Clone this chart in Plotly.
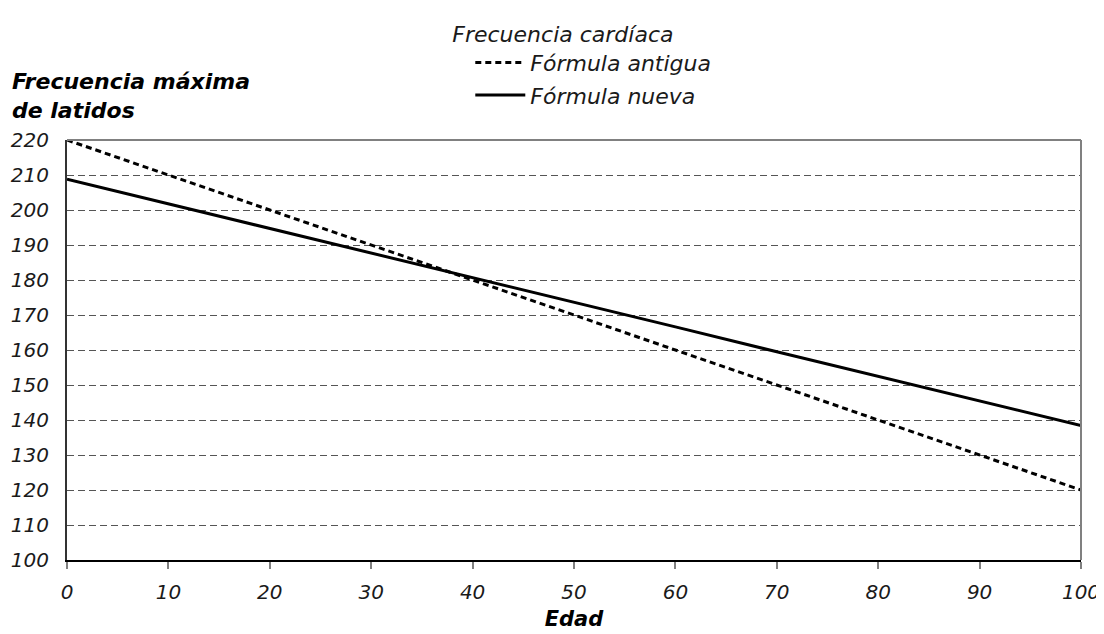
import plotly.graph_objects as go

edad = [0, 10, 20, 30, 40, 50, 60, 70, 80, 90, 100]
formula_antigua = [220, 210, 200, 190, 180, 170, 160, 150, 140, 130, 120]
formula_nueva = [208.8, 201.8, 194.7, 187.7, 180.6, 173.6, 166.6, 159.5, 152.5, 145.4, 138.4]
y_ticks = list(range(100, 221, 10))
x_ticks = list(range(0, 101, 10))

FONT = "DejaVu Sans"
TXT = "#1a1a1a"
tick_font = dict(family=FONT, size=20, style="italic", weight=200, color=TXT)

fig = go.Figure()
fig.add_trace(go.Scatter(x=edad, y=formula_antigua, mode="lines", name="Fórmula antigua",
                         legendgroup="a",
                         line=dict(color="black", width=3, dash="6px,4px")))
fig.add_trace(go.Scatter(x=edad, y=formula_nueva, mode="lines", name="Fórmula nueva",
                         legendgroup="b",
                         line=dict(color="black", width=3)))

# the page body adds an 8px offset, so the figure is sized/margined to compensate
fig.update_layout(
    width=1096, height=626,
    margin=dict(l=59, r=23, t=132, b=74),
    paper_bgcolor="white", plot_bgcolor="white",
    font=dict(family=FONT, color=TXT, size=20),
    showlegend=True,
    legend=dict(
        title=dict(text="Frecuencia cardíaca", side="top",
                   font=dict(family=FONT, size=22, style="italic", weight=200, color=TXT)),
        font=dict(family=FONT, size=22, style="italic", weight=200, color=TXT),
        x=0.378, y=0.992, xanchor="left", yanchor="top", yref="container",
        bgcolor="rgba(0,0,0,0)", itemwidth=50, tracegroupgap=1,
        traceorder="grouped", indentation=20,
    ),
    xaxis=dict(
        range=[0, 100], tickvals=x_ticks, showgrid=False, zeroline=False,
        showline=True, linecolor="black", linewidth=2, automargin=False,
        ticks="outside", ticklen=7, tickwidth=2, tickcolor="#808080",
        tickfont=tick_font, ticklabelstandoff=6,
        title=dict(text="<b>Edad</b>", standoff=8,
                   font=dict(family=FONT, size=21, style="italic", color="black")),
    ),
    yaxis=dict(
        range=[100, 220], tickvals=y_ticks, zeroline=False, automargin=False,
        showgrid=True, gridcolor="#555555", gridwidth=1, griddash="7px,4px",
        showline=True, linecolor="#333333", linewidth=2,
        ticks="", tickfont=tick_font, ticklabelstandoff=12,
    ),
    shapes=[
        dict(type="line", xref="paper", yref="paper", x0=0, x1=1, y0=1, y1=1,
             line=dict(color="#808080", width=2), layer="above"),
        dict(type="line", xref="paper", yref="paper", x0=1, x1=1, y0=0, y1=1,
             line=dict(color="#808080", width=2), layer="above"),
    ],
    annotations=[
        dict(text="<b>Frecuencia máxima<br>de latidos</b>", xref="paper", yref="paper",
             x=-0.056, y=1.035, xanchor="left", yanchor="bottom", align="left",
             showarrow=False,
             font=dict(family=FONT, size=22, style="italic", color="black")),
    ],
)

fig.write_html("out.html")
